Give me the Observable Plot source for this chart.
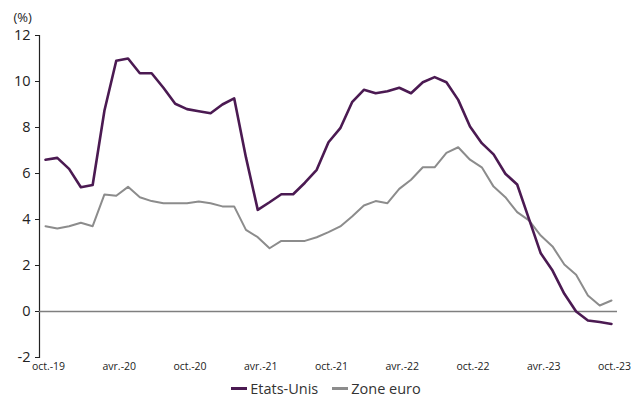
<!DOCTYPE html>
<html>
<head>
<meta charset="utf-8">
<script src="https://cdn.jsdelivr.net/npm/d3@7"></script>
<script src="https://cdn.jsdelivr.net/npm/@observablehq/plot@0.6"></script>
<style>
  html, body { margin: 0; padding: 0; background: #fff; }
  body { width: 644px; height: 401px; overflow: hidden; font-family: "Open Sans", sans-serif; }
  #legend { display: flex; justify-content: center; align-items: center; gap: 14px; font-size: 14.5px; color: #333; margin-top: 1px; margin-left: 8px; }
  #legend .item { display: flex; align-items: center; }
  #legend .sw { width: 16px; height: 3px; margin-right: 3px; }
</style>
</head>
<body>
<div id="chart"></div>
<div id="legend"></div>
<script>
// Monthly series, oct.-19 ... oct.-23 (49 months)
const months = d3.utcMonths(new Date(Date.UTC(2019, 9, 1)), new Date(Date.UTC(2023, 10, 1)));
const etatsUnis = [6.6, 6.68, 6.2, 5.4, 5.5, 8.74, 10.9, 11.0, 10.36, 10.36, 9.73, 9.03, 8.8, 8.71, 8.62, 9.0, 9.27,
  6.7, 4.42, 4.75, 5.1, 5.1, 5.6, 6.16, 7.36, 7.97, 9.1, 9.64, 9.49, 9.58, 9.73, 9.49, 9.97, 10.19, 9.97, 9.2,
  8.04, 7.32, 6.83, 5.99, 5.52, 4.03, 2.53, 1.78, 0.77, 0.0, -0.39, -0.46, -0.54];
const zoneEuro = [3.71, 3.61, 3.71, 3.86, 3.71, 5.09, 5.03, 5.42, 4.97, 4.8, 4.71, 4.71, 4.71, 4.78, 4.71, 4.57, 4.57,
  3.55, 3.23, 2.75, 3.07, 3.07, 3.07, 3.23, 3.45, 3.7, 4.13, 4.61, 4.8, 4.71, 5.33, 5.73, 6.27, 6.27, 6.9, 7.14,
  6.6, 6.27, 5.43, 4.97, 4.32, 3.96, 3.3, 2.83, 2.04, 1.6, 0.7, 0.26, 0.48];
const tickIndex = [0, 6, 12, 18, 24, 30, 36, 42, 48];
const tickLabels = ["oct.-19", "avr.-20", "oct.-20", "avr.-21", "oct.-21", "avr.-22", "oct.-22", "avr.-23", "oct.-23"];
const yTicks = [-2, 0, 2, 4, 6, 8, 10, 12];
const seriesNames = ["Etats-Unis", "Zone euro"];
const colors = ["#4b1a52", "#8c8c8c"];
const widths = [2.6, 2];

const data = [];
months.forEach((m, i) => {
  data.push({i, serie: seriesNames[0], v: etatsUnis[i]});
  data.push({i, serie: seriesNames[1], v: zoneEuro[i]});
});

const plot = Plot.plot({
  width: 644,
  height: 378,
  marginLeft: 39,
  marginRight: 27,
  marginTop: 35,
  marginBottom: 21,
  style: {fontFamily: "Open Sans, sans-serif", color: "#222", background: "#fff"},
  x: {domain: [0, 48], range: [45, 611]},
  y: {domain: [-2, 12]},
  marks: [
    Plot.frame({anchor: "left", stroke: "#222", strokeWidth: 1.2}),
    Plot.axisY({ticks: yTicks, tickFormat: (d) => String(d), tickSize: 4, tickPadding: 5, fontSize: 14.5, label: null, stroke: "#222"}),
    Plot.axisX({ticks: tickIndex, tickFormat: (d) => tickLabels[tickIndex.indexOf(d)], tickSize: 0, tickPadding: 5, fontSize: 10.5, dx: 3, label: null}),
    Plot.ruleY([0], {stroke: "#7f7f7f", strokeWidth: 1.6}),
    Plot.line(data.filter(d => d.serie === seriesNames[1]), {x: "i", y: "v", stroke: colors[1], strokeWidth: widths[1], strokeLinejoin: "round"}),
    Plot.line(data.filter(d => d.serie === seriesNames[0]), {x: "i", y: "v", stroke: colors[0], strokeWidth: widths[0], strokeLinejoin: "round"}),
    Plot.text(["(%)"], {frameAnchor: "top-left", dx: -26, dy: -23, fontSize: 13, fill: "#222", textAnchor: "start"})
  ]
});
document.getElementById("chart").append(plot);

const legend = document.getElementById("legend");
seriesNames.forEach((n, k) => {
  const it = document.createElement("div");
  it.className = "item";
  it.innerHTML = `<span class="sw" style="background:${colors[k]}"></span><span>${n}</span>`;
  legend.append(it);
});
</script>
</body>
</html>
